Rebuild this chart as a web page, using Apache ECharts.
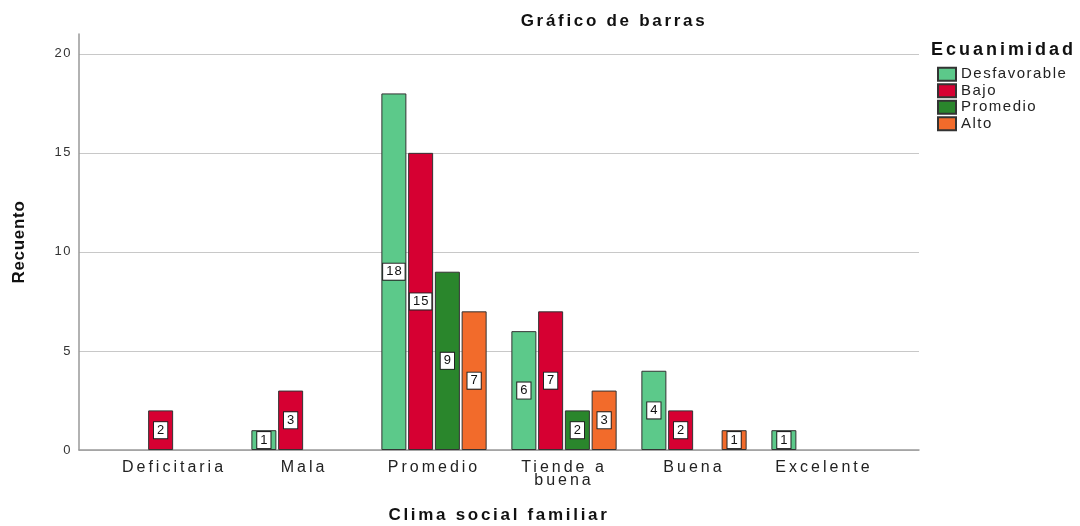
<!DOCTYPE html>
<html>
<head>
<meta charset="utf-8">
<script src="https://cdn.jsdelivr.net/npm/echarts@6/dist/echarts.min.js"></script>
<style>
  html, body { margin: 0; padding: 0; background: #fff; }
  #main { width: 1080px; height: 526px; }
</style>
</head>
<body>
<div id="main"></div>
<script>
var categories = ['Deficitaria', 'Mala', 'Promedio', 'Tiende a\nbuena', 'Buena', 'Excelente'];
var seriesNames = ['Desfavorable', 'Bajo', 'Promedio', 'Alto'];
// null = no bar in that slot
var desfavorable = [null, 1, 18, 6, 4, 1];
var bajo = [2, 3, 15, 7, 2, null];
var promedio = [null, null, 9, 2, null, null];
var alto = [null, null, 7, 3, 1, null];
var colors = ['#5cc98a', '#d60032', '#2a862c', '#f26b2b'];
var yTicks = [0, 5, 10, 15, 20];

// The SPSS export has wide letter spacing. A dummy family "spNN" in the font
// list (unknown, so the next family is used) gives the spacing in tenths of px.
(function () {
    var proto = CanvasRenderingContext2D.prototype;
    var fontProp = Object.getOwnPropertyDescriptor(proto, 'font');
    if (!fontProp || !('letterSpacing' in proto)) return;
    Object.defineProperty(proto, 'font', {
        configurable: true,
        get: fontProp.get,
        set: function (v) {
            fontProp.set.call(this, v);
            var m = /\bsp(\d+)\b/.exec(v);
            this.letterSpacing = m ? (m[1] / 10) + 'px' : '0px';
        }
    });
})();

function fam(sp) { return 'sp' + sp + ', Liberation Sans, Arial, sans-serif'; }

var myChart = echarts.init(document.getElementById('main'));

function barSeries(name, values, color) {
    return {
        name: name,
        type: 'bar',
        xAxisIndex: 1,
        yAxisIndex: 1,
        data: values,
        barWidth: 25,
        barGap: '7%',
        itemStyle: { color: color, borderColor: '#333', borderWidth: 1 },
        label: {
            show: true,
            position: 'inside',
            color: '#111',
            fontFamily: fam(10),
            fontSize: 13,
            lineHeight: 13,
            backgroundColor: '#fff',
            borderColor: '#222',
            borderWidth: 1,
            padding: [2, 2, 1, 3]
        }
    };
}

var option = {
    animation: false,
    title: [
        {
            text: 'Gráfico de barras',
            left: 609, top: 6, textAlign: 'center',
            textStyle: { fontSize: 17, fontWeight: 'bold', color: '#111', fontFamily: fam(27) }
        },
        {
            text: 'Ecuanimidad',
            left: 926, top: 35,
            textStyle: { fontSize: 18, fontWeight: 'bold', color: '#111', fontFamily: fam(30) }
        }
    ],
    legend: {
        orient: 'vertical',
        left: 937, top: 66, padding: 0,
        itemWidth: 18, itemHeight: 13, itemGap: 0,
        icon: 'rect',
        data: seriesNames,
        textStyle: { fontSize: 15, color: '#222', fontFamily: fam(15) }
    },
    grid: [
        { left: 79, right: 161, top: 34, bottom: 76, outerBoundsMode: 'none' },
        { left: 109, right: 191, top: 34, bottom: 76, outerBoundsMode: 'none' }
    ],
    xAxis: [
        {
            gridIndex: 0, type: 'category', data: categories,
            axisLine: { lineStyle: { color: '#999', width: 1.5 } },
            axisTick: { show: false }, axisLabel: { show: false },
            name: 'Clima social familiar', nameLocation: 'middle', nameGap: 55,
            nameTextStyle: { fontSize: 17, fontWeight: 'bold', color: '#111', fontFamily: fam(27) }
        },
        {
            gridIndex: 1, type: 'category', data: categories,
            axisLine: { show: false }, axisTick: { show: false },
            axisLabel: { fontSize: 16, color: '#222', margin: 11, lineHeight: 13, fontFamily: fam(30), interval: 0 }
        }
    ],
    yAxis: [
        {
            gridIndex: 0, type: 'value', min: 0, max: 21, interval: 5,
            axisLine: { show: true, lineStyle: { color: '#999', width: 1.5 } },
            axisTick: { show: false },
            axisLabel: {
                fontSize: 13, color: '#333', margin: 7, showMaxLabel: false, fontFamily: fam(15),
                formatter: function (v) { return yTicks.indexOf(v) >= 0 ? v : ''; }
            },
            splitLine: { show: true, showMaxLine: false, lineStyle: { color: '#c8c8c8', width: 1 } },
            name: 'Recuento', nameLocation: 'middle', nameGap: 51,
            nameTextStyle: { fontSize: 17, fontWeight: 'bold', color: '#111', fontFamily: fam(7) }
        },
        {
            gridIndex: 1, type: 'value', min: 0, max: 21, interval: 5, show: false
        }
    ],
    series: [
        barSeries(seriesNames[0], desfavorable, colors[0]),
        barSeries(seriesNames[1], bajo, colors[1]),
        barSeries(seriesNames[2], promedio, colors[2]),
        barSeries(seriesNames[3], alto, colors[3])
    ]
};
myChart.setOption(option);
</script>
</body>
</html>
